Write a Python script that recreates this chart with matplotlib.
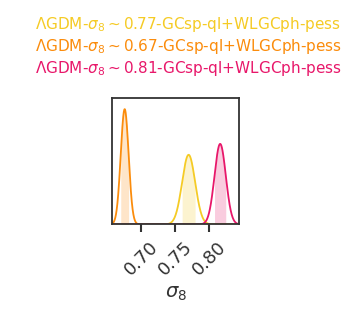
import numpy as np
import matplotlib
matplotlib.use('Agg')
import matplotlib.pyplot as plt

# chain summaries
labels = [r'$\Lambda$GDM-$\sigma_8\sim$0.77-GCsp-ql+WLGCph-pess',
          r'$\Lambda$GDM-$\sigma_8\sim$0.67-GCsp-ql+WLGCph-pess',
          r'$\Lambda$GDM-$\sigma_8\sim$0.81-GCsp-ql+WLGCph-pess']
means = [0.7696, 0.6755, 0.8160]
sigmas = [0.0096, 0.0058, 0.0083]
colors = ['#f5cb25', '#fb8c0c', '#e8176a']
ticks = [0.70, 0.75, 0.80]

fig = plt.figure(figsize=(3.57, 3.17), dpi=100)
ax = fig.add_axes([0.314, 0.292, 0.356, 0.400])

x = np.linspace(0.64, 0.86, 2000)
peak = 0
for m, s, c in zip(means, sigmas, colors):
    y = np.exp(-0.5 * ((x - m) / s) ** 2) / s
    peak = max(peak, y.max())
    ax.plot(x, y, color=c, lw=1.3)
    sel = (x > m - s) & (x < m + s)
    ax.fill_between(x[sel], 0, y[sel], color=c, alpha=0.22, lw=0)

ax.set_xlim(0.657, 0.844)
ax.set_ylim(0, peak * 1.1)
ax.set_yticks([])
ax.set_xticks(ticks)
ax.set_xticklabels(['%.2f' % t for t in ticks], rotation=45, fontsize=13, color='#333333')
ax.tick_params(axis='x', length=6, width=1.5, color='#333333')
for sp in ax.spines.values():
    sp.set_linewidth(1.3)
    sp.set_color('#333333')
ax.set_xlabel(r'$\sigma_8$', fontsize=14, color='#333333')

for i, (lab, c) in enumerate(zip(labels, colors)):
    fig.text(0.097, 1 - (25 + 21.5 * i) / 317, lab, color=c, fontsize=11, va='center')

fig.savefig('out.png', dpi=100)
